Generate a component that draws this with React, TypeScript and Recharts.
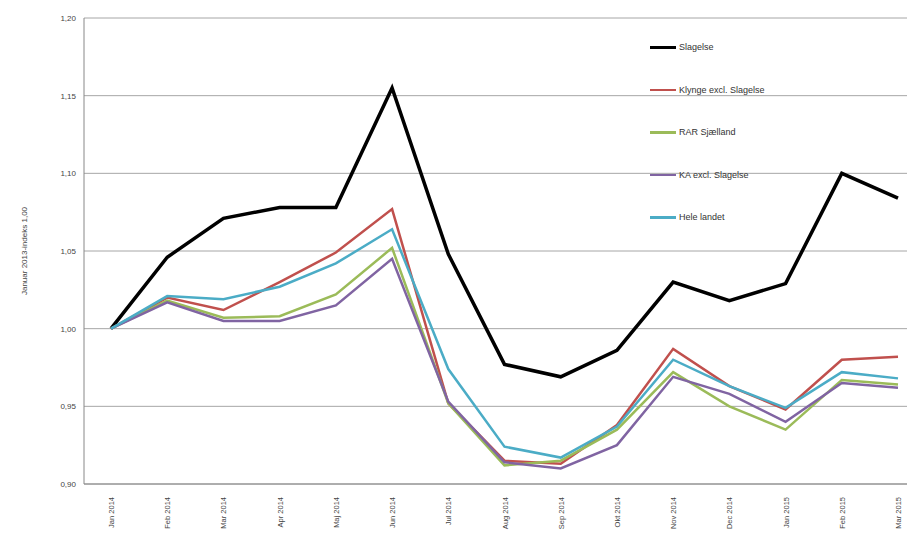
import React from "react";
import { LineChart, Line, XAxis, YAxis, CartesianGrid } from "recharts";

const months = ["Jan 2014","Feb 2014","Mar 2014","Apr 2014","Maj 2014","Jun 2014","Jul 2014","Aug 2014","Sep 2014","Okt 2014","Nov 2014","Dec 2014","Jan 2015","Feb 2015","Mar 2015"];
const slagelse = [1.000,1.046,1.071,1.078,1.078,1.155,1.048,0.977,0.969,0.986,1.030,1.018,1.029,1.100,1.084];
const klynge = [1.000,1.020,1.012,1.030,1.049,1.077,0.952,0.915,0.913,0.938,0.987,0.963,0.948,0.980,0.982];
const rar = [1.000,1.018,1.007,1.008,1.022,1.052,0.952,0.912,0.915,0.935,0.972,0.950,0.935,0.967,0.964];
const ka = [1.000,1.017,1.005,1.005,1.015,1.045,0.953,0.914,0.910,0.925,0.969,0.958,0.940,0.965,0.962];
const hele = [1.000,1.021,1.019,1.027,1.042,1.064,0.974,0.924,0.917,0.937,0.980,0.963,0.949,0.972,0.968];
const yTicks = [0.9,0.95,1.0,1.05,1.1,1.15,1.2];

const series = [
  { key: "Slagelse", values: slagelse, color: "#000000", width: 3.5 },
  { key: "Klynge excl. Slagelse", values: klynge, color: "#c0504d", width: 2.5 },
  { key: "RAR Sjælland", values: rar, color: "#9bbb59", width: 2.5 },
  { key: "KA excl. Slagelse", values: ka, color: "#8064a2", width: 2.5 },
  { key: "Hele landet", values: hele, color: "#4bacc6", width: 2.5 },
];

const data = months.map((m, i) => {
  const row: any = { month: m };
  series.forEach(s => { row[s.key] = s.values[i]; });
  return row;
});

const XTick = (props: any) => {
  const { x, y, payload } = props;
  return (
    <text x={x + 3} y={y + 5} transform={`rotate(-90 ${x + 3} ${y + 5})`} textAnchor="end" fontSize={7.5} fill="#444" fontFamily="Liberation Sans, Arial">
      {payload.value}
    </text>
  );
};

export default function App() {
  return (
    <div style={{ margin: -8, position: "relative", width: 915, height: 539, background: "#fff", overflow: "hidden" }}>
      <LineChart width={915} height={539} data={data} margin={{ top: 18, right: 4, bottom: 0, left: 0 }}>
        <CartesianGrid vertical={false} stroke="#a6a6a6" />
        <XAxis dataKey="month" tick={<XTick />} height={55} interval={0} stroke="#888" tickLine={false} padding={{ left: 27, right: 13 }} />
        <YAxis width={84} domain={[0.9, 1.2]} ticks={yTicks} tickFormatter={(v: number) => v.toFixed(2).replace(".", ",")}
          tick={{ fontSize: 8, fill: "#444", fontFamily: "Liberation Sans, Arial" }} stroke="#888" tickLine={false}
          label={{ value: "Januar 2013-indeks 1,00", angle: -90, position: "insideLeft", offset: 24, fontSize: 8, fill: "#444", fontFamily: "Liberation Sans, Arial", style: { textAnchor: "middle" } }} />
        {series.map(s => (
          <Line key={s.key} type="linear" dataKey={s.key} stroke={s.color} strokeWidth={s.width} dot={false} isAnimationActive={false} />
        ))}
      </LineChart>
      <div style={{ position: "absolute", left: 650, top: 26, fontFamily: "Liberation Sans, Arial", fontSize: 9, color: "#333" }}>
        {series.map(s => (
          <div key={s.key} style={{ display: "flex", alignItems: "center", height: 42.5 }}>
            <div style={{ width: 26, height: s.width, background: s.color, marginRight: 3 }} />
            <span>{s.key}</span>
          </div>
        ))}
      </div>
    </div>
  );
}
